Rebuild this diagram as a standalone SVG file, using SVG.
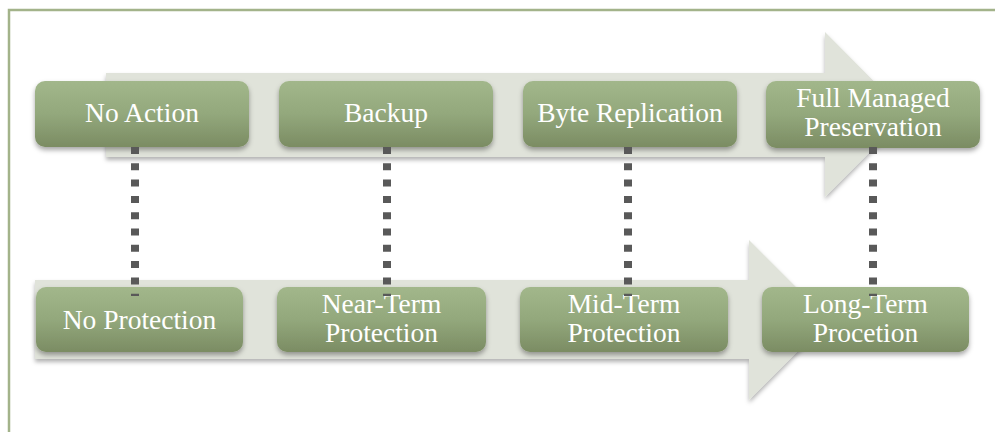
<svg xmlns="http://www.w3.org/2000/svg" width="995" height="432" viewBox="0 0 995 432">
<defs>
<linearGradient id="ng" x1="0" y1="0" x2="0" y2="1">
<stop offset="0" stop-color="#a2b78b"/>
<stop offset="0.5" stop-color="#93a87c"/>
<stop offset="1" stop-color="#7b8c63"/>
</linearGradient>
<filter id="sh" x="-10%" y="-20%" width="120%" height="150%">
<feDropShadow dx="0" dy="3" stdDeviation="2.5" flood-color="#000" flood-opacity="0.35"/>
</filter>
<filter id="ash" x="-10%" y="-10%" width="120%" height="130%">
<feDropShadow dx="0" dy="3" stdDeviation="2" flood-color="#000" flood-opacity="0.3"/>
</filter>
</defs>
<style>
.frame{fill:none;stroke:#a3b38a;stroke-width:2.5}
.arrow{fill:#e0e3da;filter:url(#ash)}
.node rect{fill:url(#ng);filter:url(#sh)}
.node text{fill:#ffffff;font-size:27.5px;text-anchor:middle}
.conn{stroke:#595959;stroke-width:8;stroke-dasharray:7 9.3;fill:none}
</style>
<path class="frame" d="M9,432 V10 H995"/>
<g id="arrows">
<polygon class="arrow" points="106,73 825,73 825,32 907,114.5 825,197 825,157 106,157"/>
<polygon class="arrow" points="35,280 749,280 749,240 829,320 749,400 749,359 35,359"/>
</g>
<g font-family="'Liberation Serif', 'DejaVu Serif', serif">
<g id="top-nodes">
<g id="n-no-action" class="node"><rect x="35" y="81" width="214" height="66" rx="10"/><text x="142" y="122">No Action</text></g>
<g id="n-backup" class="node"><rect x="279" y="81" width="214" height="66" rx="10"/><text x="386" y="122">Backup</text></g>
<g id="n-byte" class="node"><rect x="523" y="81" width="214" height="66" rx="10"/><text x="630" y="122">Byte Replication</text></g>
<g id="n-full" class="node"><rect x="766" y="81" width="214" height="67" rx="10"/><text x="873" y="107">Full Managed</text><text x="873" y="136">Preservation</text></g>
</g>
<g id="bottom-nodes">
<g id="n-no-prot" class="node"><rect x="36" y="287" width="207" height="65" rx="10"/><text x="139.5" y="329">No Protection</text></g>
<g id="n-near" class="node"><rect x="277" y="287" width="209" height="65" rx="10"/><text x="381.5" y="313">Near-Term</text><text x="381.5" y="342">Protection</text></g>
<g id="n-mid" class="node"><rect x="520" y="287" width="208" height="65" rx="10"/><text x="624" y="313">Mid-Term</text><text x="624" y="342">Protection</text></g>
<g id="n-long" class="node"><rect x="762" y="287" width="207" height="65" rx="10"/><text x="865.5" y="313">Long-Term</text><text x="865.5" y="342">Procetion</text></g>
</g>
</g>
<g id="connectors">
<line class="conn" x1="135" y1="147" x2="135" y2="296"/>
<line class="conn" x1="387" y1="147" x2="387" y2="296"/>
<line class="conn" x1="628" y1="147" x2="628" y2="296"/>
<line class="conn" x1="873" y1="147" x2="873" y2="296"/>
</g>
</svg>
